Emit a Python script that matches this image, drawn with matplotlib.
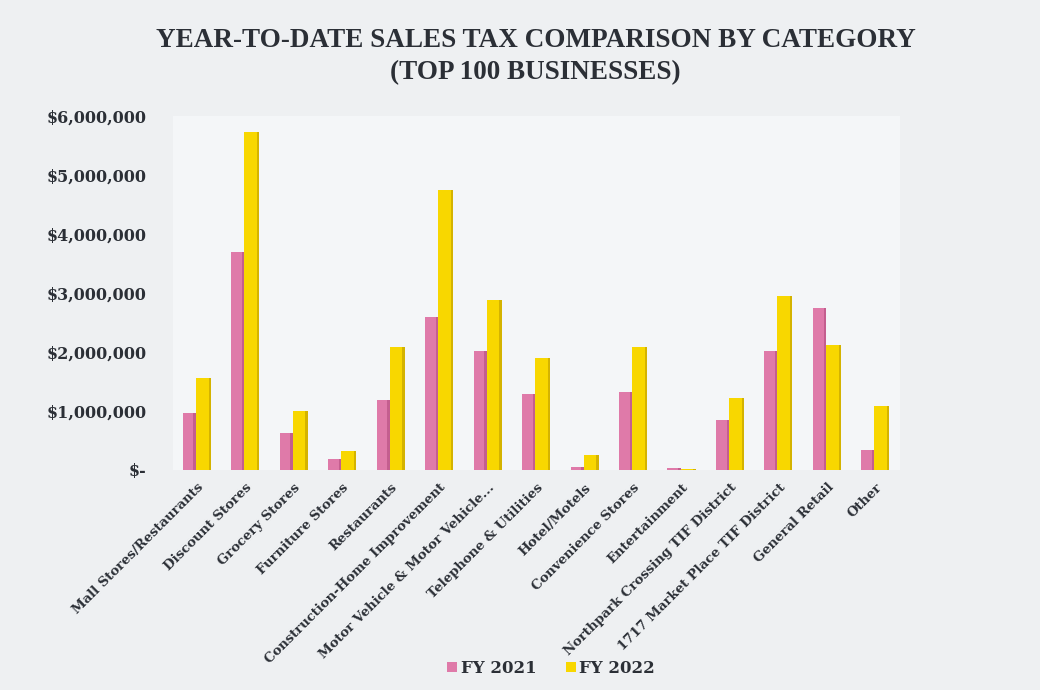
import matplotlib.pyplot as plt
import numpy as np
from matplotlib.ticker import FuncFormatter

# categories and values (dollars)
categories = [
    "Mall Stores/Restaurants", "Discount Stores", "Grocery Stores",
    "Furniture Stores", "Restaurants", "Construction-Home Improvement",
    "Motor Vehicle & Motor Vehicle...", "Telephone & Utilities",
    "Hotel/Motels", "Convenience Stores", "Entertainment",
    "Northpark Crossing TIF District", "1717 Market Place TIF District",
    "General Retail", "Other",
]
fy2021 = [960000, 3700000, 620000, 190000, 1180000, 2600000, 2020000,
          1290000, 50000, 1320000, 25000, 850000, 2010000, 2750000, 330000]
fy2022 = [1560000, 5720000, 1000000, 320000, 2080000, 4750000, 2880000,
          1890000, 250000, 2090000, 20000, 1220000, 2950000, 2120000, 1090000]
series_names = ["FY 2021", "FY 2022"]

pink = "#df7aa9"
pink_dark = "#c45e8f"
yellow = "#f8d700"
yellow_dark = "#d4b300"
text_col = "#2b2f36"
serif = "DejaVu Serif"

fig = plt.figure(figsize=(10.4, 6.9), dpi=100)
fig.patch.set_facecolor("#eef0f2")
ax = fig.add_axes([0.166, 0.319, 0.699, 0.513])
ax.set_facecolor("#f4f6f8")

x = np.arange(len(categories))
w = 0.27
side = 0.05

# main faces
ax.bar(x - w / 2 - 0.02, fy2021, width=w, color=pink, label=series_names[0], zorder=2)
ax.bar(x + w / 2, fy2022, width=w + 0.04, color=yellow, label=series_names[1], zorder=3)
# darker right-hand side to fake the 3D look
ax.bar(x - 0.02 - side / 2, fy2021, width=side, color=pink_dark, zorder=2)
ax.bar(x + w + 0.02 - side / 2, fy2022, width=side, color=yellow_dark, zorder=3)

ax.set_xlim(-0.5, len(categories) - 0.5)
ax.set_ylim(0, 6000000)
ax.set_yticks(np.arange(0, 6000001, 1000000))


def money(v, pos):
    if v == 0:
        return "$-"
    return f"${v:,.0f}"


ax.yaxis.set_major_formatter(FuncFormatter(money))
ax.set_xticks(x)
ax.set_xticklabels(categories, rotation=45, ha="right", rotation_mode="anchor",
                   fontfamily=serif, fontweight="bold", fontsize=9.5, color=text_col)
for lbl in ax.get_yticklabels():
    lbl.set_fontfamily(serif)
    lbl.set_fontweight("bold")
    lbl.set_fontsize(11.5)
    lbl.set_color(text_col)
ax.tick_params(axis="y", length=0, pad=19)
ax.tick_params(axis="x", length=0, pad=8)
for s in ax.spines.values():
    s.set_visible(False)

fig.text(0.515, 0.918, "YEAR-TO-DATE SALES TAX COMPARISON BY CATEGORY\n(TOP 100 BUSINESSES)",
         ha="center", va="center", fontfamily="Liberation Serif", fontweight="bold",
         fontsize=19.5, color=text_col, linespacing=1.35)

leg = fig.legend(handles=ax.containers[:2], labels=series_names, loc="lower center",
                 bbox_to_anchor=(0.53, -0.003), ncol=2, frameon=False,
                 prop={"family": serif, "weight": "bold", "size": 12},
                 handlelength=0.6, handleheight=0.6, handletextpad=0.2, columnspacing=1.8)
for t in leg.get_texts():
    t.set_color(text_col)

fig.savefig("out.png", dpi=100, facecolor=fig.get_facecolor())
